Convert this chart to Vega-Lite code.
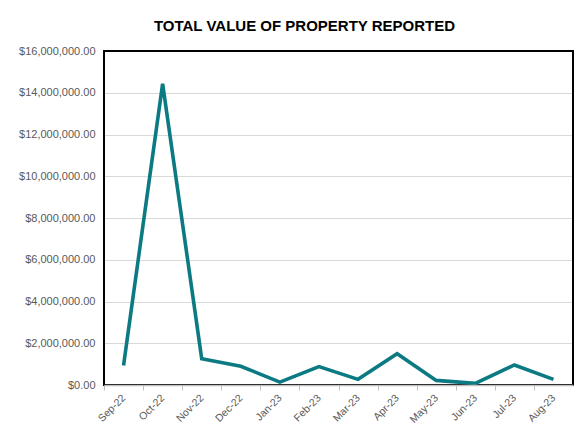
{
  "$schema": "https://vega.github.io/schema/vega-lite/v6.json",
  "width": 469,
  "height": 334,
  "autosize": {"type": "none"},
  "padding": {"left": 104, "top": 51, "right": 11, "bottom": 52},
  "background": "white",
  "title": {
    "text": "TOTAL VALUE OF PROPERTY REPORTED",
    "font": "Liberation Sans",
    "fontSize": 15,
    "fontWeight": "bold",
    "color": "#000000",
    "anchor": "middle",
    "dx": -34,
    "offset": 11
  },
  "data": {
    "values": [
      {"month": "Sep-22", "value": 940000},
      {"month": "Oct-22", "value": 14430000},
      {"month": "Nov-22", "value": 1260000},
      {"month": "Dec-22", "value": 900000},
      {"month": "Jan-23", "value": 140000},
      {"month": "Feb-23", "value": 880000},
      {"month": "Mar-23", "value": 270000},
      {"month": "Apr-23", "value": 1500000},
      {"month": "May-23", "value": 220000},
      {"month": "Jun-23", "value": 80000},
      {"month": "Jul-23", "value": 960000},
      {"month": "Aug-23", "value": 270000}
    ]
  },
  "layer": [
    {
      "mark": {"type": "rect", "fill": null, "fillOpacity": 0, "stroke": "#000000", "strokeWidth": 1.2},
      "encoding": {
        "x": {"value": 0},
        "x2": {"value": "width"},
        "y": {"value": 0},
        "y2": {"value": "height"}
      }
    },
    {
      "mark": {"type": "line", "color": "#0b7a82", "strokeWidth": 3.6, "strokeJoin": "miter", "strokeCap": "butt"},
      "encoding": {
        "x": {
          "field": "month",
          "type": "ordinal",
          "sort": null,
          "scale": {"padding": 0.5},
          "axis": {
            "title": null,
            "labelAngle": -45,
            "labelAlign": "right",
            "labelBaseline": "middle",
            "labelFont": "Liberation Sans",
            "labelFontSize": 10.5,
            "labelColor": "#595959",
            "labelPadding": 6,
            "tickOffset": -19.54,
            "labelOffset": 19.54,
            "ticks": true,
            "tickSize": 5,
            "tickColor": "#bfbfbf",
            "domainColor": "#bfbfbf",
            "domainWidth": 1.6,
            "grid": false,
            "zindex": 1
          }
        },
        "y": {
          "field": "value",
          "type": "quantitative",
          "scale": {"domain": [0, 16000000], "nice": false},
          "axis": {
            "title": null,
            "values": [0, 2000000, 4000000, 6000000, 8000000, 10000000, 12000000, 14000000, 16000000],
            "format": "$,.2f",
            "labelFont": "Liberation Sans",
            "labelFontSize": 11,
            "labelColor": "#595959",
            "labelPadding": 9,
            "ticks": false,
            "domain": false,
            "grid": true,
            "gridColor": "#d9d9d9",
            "gridWidth": 1
          }
        }
      }
    }
  ]
}
